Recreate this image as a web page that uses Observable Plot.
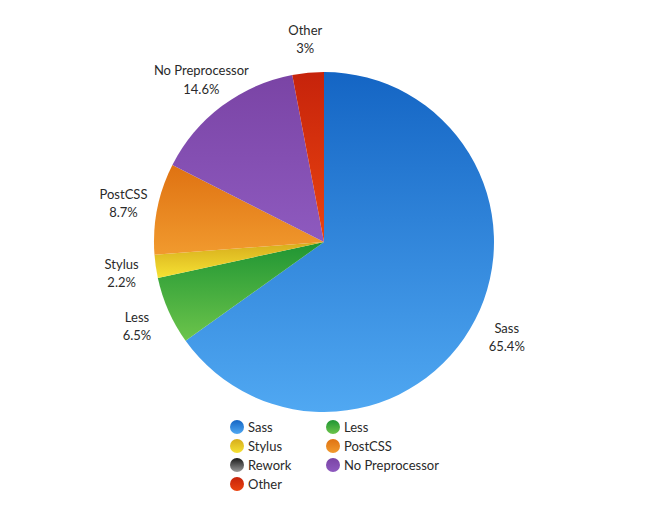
<!DOCTYPE html>
<html>
<head>
<meta charset="utf-8">
<script src="https://cdn.jsdelivr.net/npm/d3@7"></script>
<script src="https://cdn.jsdelivr.net/npm/@observablehq/plot@0.6"></script>
<style>
  html, body { margin: 0; padding: 0; background: #fff; }
  #wrap { position: relative; width: 650px; height: 515px; font-family: Lato, "Open Sans", sans-serif; }
  #legend { position: absolute; left: 230px; top: 417px; display: grid; grid-template-columns: 96px 130px; grid-auto-rows: 19px; font-size: 13px; color: #2a2a2a; }
  .item { display: flex; align-items: center; }
  .sw { width: 14px; height: 14px; border-radius: 50%; margin-right: 4px; flex: none; }
</style>
</head>
<body>
<div id="wrap"></div>
<script>
// ---- data ----
const categories = ["Sass", "Less", "Stylus", "PostCSS", "No Preprocessor", "Other"];
const shares = [65.4, 6.5, 2.2, 8.7, 14.6, 3];
const topColors = ["#1465c4", "#1f9533", "#d6ac1c", "#df7212", "#7a44a5", "#c6230b"];
const bottomColors = ["#50a8f2", "#6cc44b", "#f6e233", "#f19a2e", "#8e5abf", "#ea4410"];
const legendLabels = ["Sass", "Less", "Stylus", "PostCSS", "Rework", "No Preprocessor", "Other"];
const legendTop = ["#1465c4", "#1f9533", "#d6ac1c", "#df7212", "#1a1a1a", "#7a44a5", "#c6230b"];
const legendBottom = ["#50a8f2", "#6cc44b", "#f6e233", "#f19a2e", "#9a9a9a", "#8e5abf", "#ea4410"];

const table = categories.map((name, i) => ({name, share: shares[i], i}));
const arcs = d3.pie().sort(null).value(d => d.share)(table);
const R = 170, RL = 205;
const labels = arcs.map(a => {
  const m = (a.startAngle + a.endAngle) / 2;
  return {x: RL * Math.sin(m), y: RL * Math.cos(m), text: `${a.data.name}\n${a.data.share}%`};
});

const sliceMark = (index, scales) => {
  const ns = "http://www.w3.org/2000/svg";
  const g = document.createElementNS(ns, "g");
  const defs = document.createElementNS(ns, "defs");
  g.appendChild(defs);
  const cx = scales.x(0), cy = scales.y(0);
  const r = Math.abs(scales.x(R) - scales.x(0));
  const arc = d3.arc().innerRadius(0).outerRadius(r);
  arcs.forEach((a, k) => {
    const lg = document.createElementNS(ns, "linearGradient");
    lg.setAttribute("id", "grad" + k);
    lg.setAttribute("x1", "0"); lg.setAttribute("y1", "0");
    lg.setAttribute("x2", "0"); lg.setAttribute("y2", "1");
    [[0, topColors[k]], [1, bottomColors[k]]].forEach(([o, c]) => {
      const s = document.createElementNS(ns, "stop");
      s.setAttribute("offset", o); s.setAttribute("stop-color", c);
      lg.appendChild(s);
    });
    defs.appendChild(lg);
    const p = document.createElementNS(ns, "path");
    p.setAttribute("d", arc(a));
    p.setAttribute("transform", `translate(${cx},${cy})`);
    p.setAttribute("fill", `url(#grad${k})`);
    g.appendChild(p);
  });
  return g;
};

const chart = Plot.plot({
  width: 650,
  height: 420,
  margin: 0,
  x: {domain: [-324, 326], axis: null},
  y: {domain: [-178, 242], axis: null},
  style: {fontFamily: "Lato, 'Open Sans', sans-serif", background: "#fff"},
  marks: [
    sliceMark,
    Plot.text(labels, {x: "x", y: "y", text: "text", fontSize: 13, fill: "#2a2a2a", lineHeight: 1.4})
  ]
});

const wrap = document.getElementById("wrap");
wrap.appendChild(chart);
const legend = document.createElement("div");
legend.id = "legend";
legendLabels.forEach((name, i) => {
  const it = document.createElement("div");
  it.className = "item";
  const sw = document.createElement("span");
  sw.className = "sw";
  sw.style.background = `linear-gradient(${legendTop[i]}, ${legendBottom[i]})`;
  const t = document.createElement("span");
  t.textContent = name;
  it.appendChild(sw); it.appendChild(t);
  legend.appendChild(it);
});
wrap.appendChild(legend);
</script>
</body>
</html>
